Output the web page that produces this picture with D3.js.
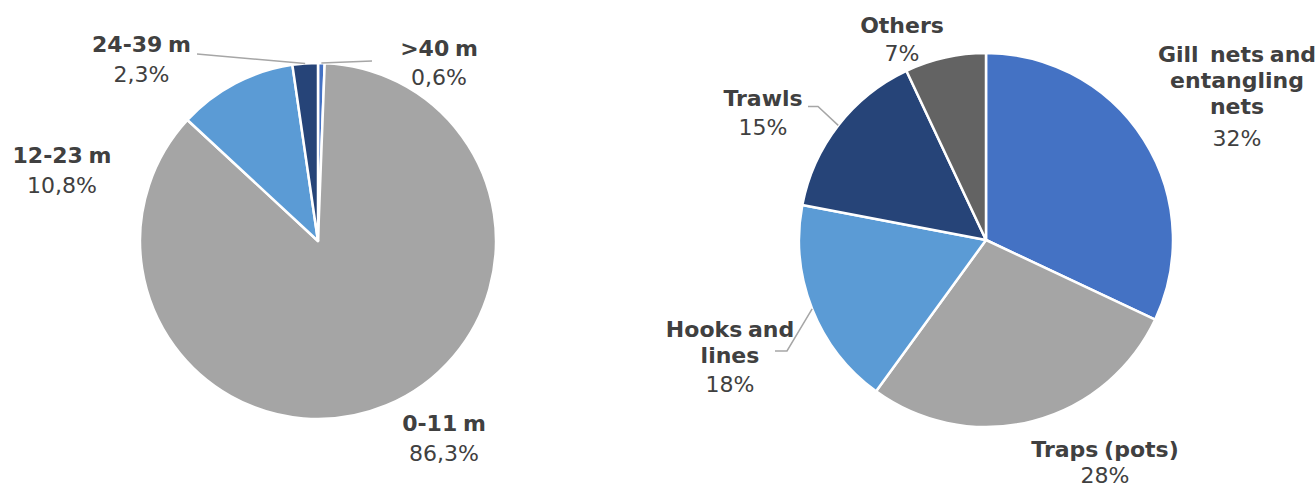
<!DOCTYPE html>
<html>
<head>
<meta charset="utf-8">
<script src="https://cdn.jsdelivr.net/npm/d3@7"></script>
<style>
  body { margin: 0; background: #fff; }
  svg text { font-family: "DejaVu Sans", Verdana, sans-serif; fill: #404040; white-space: pre; word-spacing: -2px; }
</style>
</head>
<body>
<div id="chart"></div>
<script>
// vessel length shares (left pie)
const lengthLabels = ['>40 m', '0-11 m', '12-23 m', '24-39 m'];
const lengthShares = [0.6, 86.3, 10.8, 2.3];
const lengthPct = ['0,6%', '86,3%', '10,8%', '2,3%'];

// gear type shares (right pie)
const gearLabels = ['Gill  nets and|entangling|nets', 'Traps (pots)', 'Hooks and|lines', 'Trawls', 'Others'];
const gearShares = [32, 28, 18, 15, 7];
const gearPct = ['32%', '28%', '18%', '15%', '7%'];

const leftColors = ['#4472C4', '#A5A5A5', '#5B9BD5', '#264478'];
const rightColors = ['#4472C4', '#A5A5A5', '#5B9BD5', '#264478', '#636363'];

// label placement: x, first baseline, gap to the percent line, leader elbow points
const leftLayout = [
  {x: 439, y: 56, gap: 29, leader: [[372, 61]]},
  {x: 444, y: 431, gap: 30},
  {x: 62, y: 163, gap: 30},
  {x: 141.5, y: 52, gap: 30, leader: [[197, 54]]}
];
const rightLayout = [
  {x: 1237, y: 62, gap: 32},
  {x: 1105, y: 457, gap: 26},
  {x: 730, y: 337, gap: 29, leader: [[787, 351], [775, 351]]},
  {x: 763, y: 106, gap: 29, leader: [[818, 106.5], [808, 106.5]]},
  {x: 902, y: 33, gap: 28}
];

const width = 1316, height = 487;

const svg = d3.select('#chart').append('svg')
  .attr('width', width)
  .attr('height', height);

function drawPie(values, labels, pcts, colors, layout, cx, cy, r) {
  const pie = d3.pie().sort(null).value(d => d)(values);
  const arc = d3.arc().innerRadius(0).outerRadius(r);

  const g = svg.append('g').attr('transform', `translate(${cx},${cy})`);

  g.selectAll('path')
    .data(pie)
    .enter()
    .append('path')
      .attr('d', arc)
      .attr('fill', (d, i) => colors[i])
      .attr('stroke', '#fff')
      .attr('stroke-width', 2.5)
      .attr('stroke-linejoin', 'round');

  pie.forEach((d, i) => {
    const L = layout[i];
    if (L.leader) {
      const a = (d.startAngle + d.endAngle) / 2;
      const pts = [[cx + Math.sin(a) * r, cy - Math.cos(a) * r]].concat(L.leader);
      svg.append('path')
        .attr('d', d3.line()(pts))
        .attr('fill', 'none')
        .attr('stroke', '#A6A6A6')
        .attr('stroke-width', 1.5);
    }
    const lines = labels[i].split('|');
    const t = svg.append('g').attr('text-anchor', 'middle');
    lines.forEach((ln, k) => {
      t.append('text')
        .attr('x', L.x)
        .attr('y', L.y + k * 26)
        .attr('font-size', '22px')
        .attr('font-weight', 'bold')
        .text(ln);
    });
    t.append('text')
      .attr('x', L.x)
      .attr('y', L.y + (lines.length - 1) * 26 + L.gap)
      .attr('font-size', '22px')
      .text(pcts[i]);
  });
}

drawPie(lengthShares, lengthLabels, lengthPct, leftColors, leftLayout, 318, 241, 178);
drawPie(gearShares, gearLabels, gearPct, rightColors, rightLayout, 986, 240, 187);
</script>
</body>
</html>
